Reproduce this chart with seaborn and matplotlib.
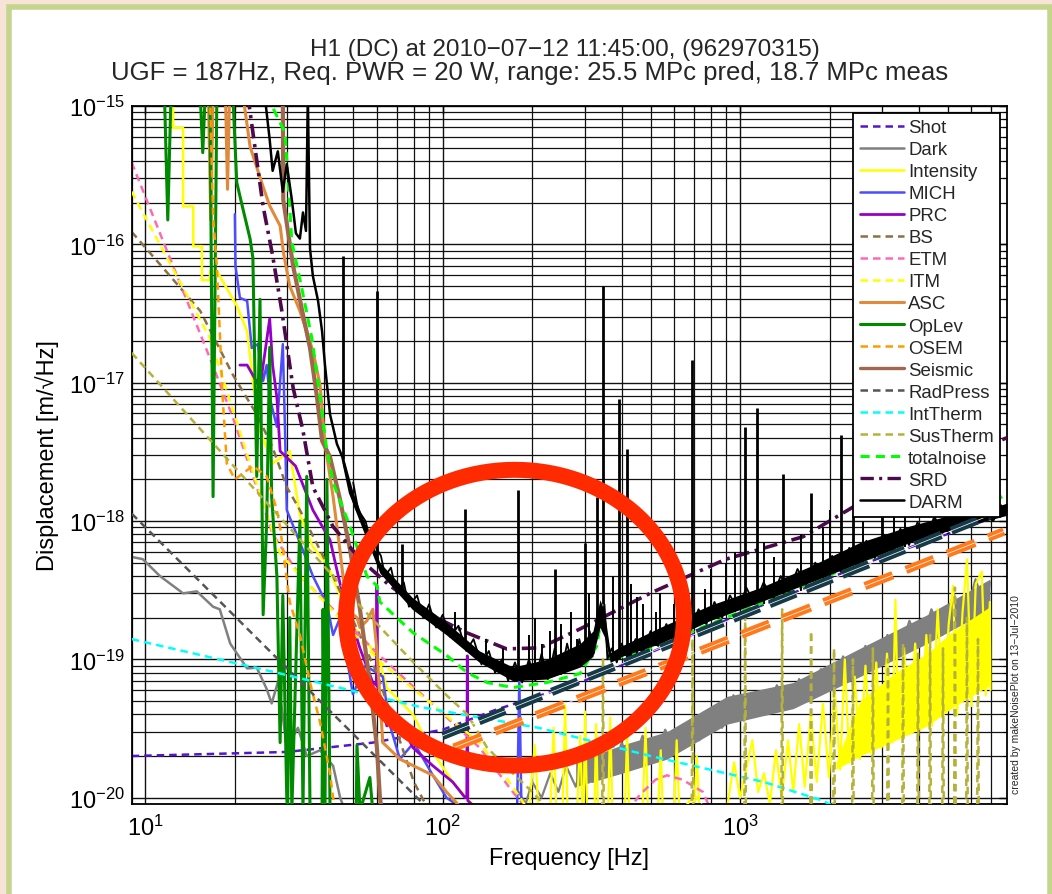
import numpy as np
import matplotlib
matplotlib.use("Agg")
import matplotlib.pyplot as plt
import seaborn as sns
from matplotlib.lines import Line2D
from matplotlib.patches import Rectangle
from matplotlib.ticker import FixedLocator, LogLocator, NullFormatter

# ---------------- data (frequency [Hz], displacement [m/rtHz]) ----------------
shot_pts = [(9.0, 2.0e-20), (29.9, 2.14e-20), (58.2, 2.5e-20), (100, 3.1e-20), (150, 4.3e-20),
            (290, 6.8e-20), (940, 2.0e-19), (2754, 5.1e-19), (7900, 1.15e-18)]

dark_lo_pts = [(9.0, 5.5e-19), (9.8, 5.3e-19), (11.2, 4.0e-19), (13.4, 3.0e-19), (14.9, 3.1e-19),
               (16.9, 2.4e-19), (17.8, 2.3e-19), (19.3, 1.3e-19), (22.0, 8.6e-20), (23.7, 8.7e-20),
               (25.6, 6.1e-20), (26.6, 4.8e-20), (28.0, 7.0e-20), (29.9, 2.3e-20), (32.6, 3.2e-20),
               (34.9, 2.0e-20), (38.7, 2.2e-20), (42.8, 1.7e-20), (45.2, 1.0e-20), (47.0, 8.0e-21)]
dark_hi_pts = [(180, 1.1e-20), (190, 9e-21), (200, 1.3e-20), (215, 1.0e-20), (230, 1.5e-20), (245, 1.1e-20),
               (260, 1.7e-20), (280, 1.2e-20), (300, 2.0e-20), (320, 1.3e-20), (345, 2.2e-20), (370, 1.5e-20),
               (400, 2.5e-20), (430, 1.6e-20), (470, 2.8e-20), (510, 1.8e-20), (560, 3.1e-20), (610, 2.1e-20),
               (670, 3.5e-20), (730, 2.6e-20), (800, 4.2e-20), (870, 3.2e-20), (950, 5.5e-20), (1030, 3.6e-20),
               (1120, 5.8e-20), (1220, 4.0e-20), (1330, 6.5e-20), (1450, 4.4e-20), (1580, 7.2e-20),
               (1720, 5.0e-20), (1870, 8.5e-20), (2040, 6.0e-20), (2220, 1.05e-19), (2420, 7.2e-20),
               (2640, 1.25e-19), (2870, 8.8e-20), (3130, 1.5e-19), (3410, 1.05e-19), (3710, 1.9e-19),
               (4040, 1.25e-19), (4400, 2.3e-19), (4790, 1.5e-19), (5220, 3.0e-19), (5680, 1.9e-19),
               (6190, 3.8e-19), (6700, 2.3e-19), (6920, 3.6e-19)]
dark_band_hz = [280, 400, 568, 904, 1508, 2529, 4254, 6920]
dark_band_low = [1.2e-20, 1.5e-20, 1.9e-20, 3.4e-20, 4.4e-20, 7.5e-20, 1.3e-19, 2.3e-19]
dark_band_high = [1.8e-20, 2.4e-20, 3.0e-20, 5.4e-20, 6.8e-20, 1.2e-19, 2.1e-19, 3.8e-19]

intensity_lo_pts = [(12.4, 1.2e-15), (12.4, 6.95e-16), (13.4, 6.95e-16), (13.4, 1.88e-16), (14.5, 1.88e-16),
                    (14.5, 9.7e-17), (15.5, 9.7e-17), (15.5, 5.5e-17), (16.5, 5.5e-17), (16.5, 6.4e-17),
                    (17.4, 6.4e-17), (20.3, 3.6e-17), (22.0, 2.35e-17), (23.0, 1.03e-17), (24.3, 4.5e-18),
                    (26.8, 2.6e-18), (30.6, 3.2e-18), (33.1, 1.1e-18), (36.6, 6.5e-19), (40.8, 4.9e-19),
                    (49.9, 1.74e-19), (56.9, 1.25e-19), (61.5, 9.5e-20), (64.9, 6.2e-20), (79.4, 4.0e-20),
                    (90.5, 2.3e-20), (108, 1.3e-20), (123, 9.5e-21), (130, 8.0e-21)]
intensity_hi_pts = [(195, 8e-21), (204, 2.4e-20), (210, 8e-21), (230, 8e-21), (236, 3.2e-20), (241, 8e-21),
                    (253, 8e-21), (258, 4.7e-20), (263, 8e-21), (283, 8e-21), (290, 2.8e-20), (295, 8e-21),
                    (298, 8e-21), (301, 4.2e-20), (306, 8e-21), (324, 8e-21), (328, 3.4e-20), (333, 8e-21),
                    (360, 8e-21), (366, 3.8e-20), (372, 8e-21), (410, 8e-21), (417, 3.0e-20), (424, 8e-21),
                    (470, 8e-21), (481, 3.2e-20), (490, 8e-21), (530, 8e-21), (541, 2.2e-20), (550, 8e-21),
                    (600, 8e-21), (612, 2.6e-20), (625, 8e-21), (700, 8e-21), (715, 2.0e-20), (730, 8e-21),
                    (900, 8e-21), (955, 1.8e-20), (1000, 1.0e-20), (1100, 2.6e-20), (1150, 1.1e-20),
                    (1204, 1.5e-20), (1260, 9e-21), (1320, 2.2e-20), (1380, 1.0e-20), (1450, 2.6e-20),
                    (1510, 1.1e-20), (1580, 3.4e-20), (1650, 1.2e-20), (1730, 4.0e-20), (1810, 1.3e-20),
                    (1900, 4.8e-20), (1990, 1.4e-20), (2080, 6.0e-20), (2170, 1.6e-20), (2250, 1.0e-19),
                    (2330, 1.8e-20), (2430, 7.5e-20), (2530, 1.9e-20), (2640, 9.0e-20), (2750, 2.1e-20),
                    (2870, 9.5e-20), (2990, 2.3e-20), (3120, 1.1e-19), (3250, 2.5e-20), (3330, 2.7e-19),
                    (3410, 2.7e-20), (3560, 1.2e-19), (3720, 2.9e-20), (3880, 1.3e-19), (4050, 3.1e-20),
                    (4230, 1.5e-19), (4420, 3.3e-20), (4620, 2.3e-19), (4820, 3.6e-20), (5030, 1.8e-19),
                    (5200, 3.4e-19), (5370, 4.0e-20), (5600, 2.2e-19), (5800, 5.3e-19), (6000, 4.6e-20),
                    (6200, 3.5e-19), (6500, 4.3e-19), (6700, 5.5e-20), (6920, 2.6e-19), (6950, 6.0e-20)]
intensity_band_hz = [2100, 2529, 3330, 4254, 5200, 6920]
intensity_band_low = [1.6e-20, 2.0e-20, 2.6e-20, 3.3e-20, 4.5e-20, 6.5e-20]
intensity_band_high = [1.8e-20, 5.0e-20, 8.0e-20, 1.1e-19, 1.6e-19, 2.4e-19]

mich_pts = [(20.0, 1.65e-16), (20.1, 7.0e-17), (20.8, 4.1e-17), (22.0, 3.9e-17), (22.8, 1.78e-17),
            (23.9, 1.9e-17), (24.9, 1.03e-17), (25.6, 1.34e-17), (26.2, 7.8e-18), (27.7, 4.8e-18),
            (29.0, 1.9e-17), (29.5, 4.5e-18), (29.9, 1.2e-18), (33.1, 7.0e-19), (36.6, 4.0e-19),
            (40.8, 2.5e-19), (42.8, 1.5e-19), (45.2, 2.0e-19), (49.9, 5.6e-20), (55.0, 9.0e-20),
            (62.9, 7.5e-20), (66.0, 3.5e-20), (71.8, 1.9e-20), (80.0, 2.5e-20), (92.7, 1.45e-20),
            (103, 1.0e-20), (115, 8.5e-21), (178, 8.5e-21), (181, 7.2e-20), (184, 8.5e-21)]

prc_pts = [(20.8, 1.34e-17), (22.0, 1.34e-17), (24.3, 9.2e-18), (26.2, 2.9e-17), (26.8, 1.34e-17),
           (27.7, 7.8e-18), (28.4, 3.2e-18), (32.0, 2.5e-18), (36.6, 1.2e-18), (41.8, 7.3e-19),
           (45.2, 3.5e-19), (52.7, 1.2e-19), (58.2, 6.8e-20), (59.8, 6.5e-20), (60.1, 3.4e-19),
           (60.5, 6.2e-20), (61.5, 5.5e-20), (64.9, 3.3e-20), (70.0, 4.0e-20), (79.4, 2.3e-20),
           (92.7, 1.7e-20), (108, 1.3e-20), (119, 1.0e-20), (120.5, 1.0e-20), (121, 1.06e-19),
           (121.5, 9.5e-21), (133, 8.0e-21)]

bs_pts = [(9.0, 1.23e-16), (11.8, 6.3e-17), (15.3, 3.3e-17), (19.7, 1.14e-17), (23.7, 5.9e-18),
          (26.8, 3.4e-18), (29.9, 1.76e-18), (33.1, 1.2e-18), (42.8, 4.0e-19), (60.0, 8.0e-20),
          (80.0, 1.3e-20), (90.0, 8.0e-21)]

etm_pts = [(9.0, 3.9e-16), (16.5, 1.5e-17), (19.7, 5.6e-18), (26.8, 8.1e-19), (29.0, 6.2e-19),
           (33.1, 4.0e-19), (61.5, 1.06e-19), (133, 2.3e-20), (172, 1.1e-20), (195, 8.0e-21),
           (420, 8.0e-21), (460, 1.05e-20), (520, 1.35e-20), (568, 1.45e-20), (640, 1.35e-20),
           (750, 1.1e-20), (800, 8.0e-21)]

itm_pts = [(9.0, 2.4e-16), (16.5, 2.1e-17), (22.5, 2.6e-18), (28.4, 5.8e-19), (61.5, 9.6e-20),
           (133, 2.5e-20), (172, 1.2e-20), (195, 8.0e-21), (640, 8.0e-21), (700, 1.05e-20),
           (770, 8.0e-21)]

asc_pts = [(16.3, 1.2e-15), (16.6, 1.5e-16), (16.9, 1.2e-15), (18.6, 1.2e-15), (18.9, 2.5e-16),
           (19.2, 1.2e-15), (21.3, 1.2e-15), (22.5, 5.1e-16), (24.9, 2.6e-16), (26.2, 1.9e-16),
           (28.4, 1.36e-16), (29.2, 8.5e-17), (30.6, 5.0e-17), (33.1, 3.3e-17), (36.6, 1.7e-17),
           (38.7, 9.6e-18), (40.2, 3.6e-18), (42.8, 1.5e-18), (45.2, 6.0e-19), (47.6, 2.3e-19),
           (51.5, 2.0e-19), (52.7, 1.7e-19), (55.6, 1.9e-19), (58.2, 2.3e-19), (60.0, 1.2e-19),
           (62.9, 2.5e-20), (71.8, 1.9e-20), (92.7, 1.45e-20), (103, 1.1e-20), (115, 8.5e-21)]

oplev_pts = [(11.6, 1.2e-15), (11.9, 1.5e-16), (12.2, 1.2e-15), (15.3, 1.2e-15), (15.6, 4.6e-16),
             (15.9, 1.2e-15), (16.5, 1.2e-15), (16.9, 1.5e-18), (17.4, 1.2e-15), (19.7, 1.2e-15),
             (20.3, 2.8e-16), (21.3, 1.8e-16), (22.5, 1.1e-16), (23.0, 8.0e-17), (23.7, 2.1e-18),
             (24.3, 4.0e-17), (24.9, 2.1e-19), (25.6, 1.0e-18), (26.2, 1.8e-17), (26.6, 1.5e-18),
             (27.7, 4.0e-19), (28.4, 2.5e-20), (29.0, 2.9e-19), (29.9, 1.0e-20), (30.1, 8e-21),
             (30.6, 2.0e-19), (31.1, 8e-21), (33.1, 1.0e-18), (33.9, 8e-21), (34.9, 2.1e-18),
             (35.8, 8e-21), (39.3, 8e-21), (39.6, 2.3e-19), (40.2, 8e-21), (40.8, 2.0e-18),
             (41.8, 8e-21), (51.2, 8e-21), (51.5, 2.4e-20), (52.7, 8e-21), (56.9, 1.4e-20), (58.2, 8e-21)]

osem_pts = [(16.5, 1.2e-15), (16.9, 1.6e-16), (17.4, 7.0e-17), (17.8, 2.35e-17), (18.2, 7.8e-18),
            (18.8, 2.6e-18), (20.0, 2.0e-18), (23.0, 2.5e-18), (25.6, 2.1e-18), (27.7, 1.2e-18),
            (28.4, 9.0e-19), (30.6, 2.6e-19), (33.1, 1.5e-19), (35.8, 6.8e-20), (38.7, 3.5e-20),
            (41.8, 1.5e-20), (42.8, 1.0e-20), (43.6, 8e-21)]

seismic_pts = [(29.0, 1.2e-15), (29.1, 2.1e-16), (31.4, 7.0e-17), (33.9, 3.1e-17), (35.8, 1.78e-17),
               (37.8, 7.8e-18), (39.3, 3.8e-18), (41.8, 2.9e-18), (45.2, 1.42e-18), (48.8, 6.2e-19),
               (52.7, 2.3e-19), (56.9, 6.8e-20), (60.1, 2.3e-20), (61.5, 1.0e-20), (62.5, 8e-21)]

radpress_pts = [(9.0, 1.13e-18), (88, 8.6e-21)]

inttherm_pts = [(9.0, 1.4e-19), (28.4, 7.9e-20), (85, 4.5e-20), (210, 3.2e-20), (500, 2.0e-20),
                (1200, 1.3e-20), (1900, 9.5e-21), (2100, 8.5e-21)]

sustherm_base_pts = [(9.0, 1.64e-17), (21.3, 2.1e-18), (54.0, 2.3e-19), (79.4, 9.6e-20), (103, 5.5e-20),
                     (121, 4.0e-20), (141, 2.3e-20), (172, 1.5e-20), (200, 1.1e-20), (230, 8.0e-21)]
sustherm_violin_hz = [346, 692, 1040, 1385, 1733, 2070, 2396, 2797, 3144, 3532, 3966, 4355, 4813,
                      5279, 5794, 6310]
sustherm_violin_peak = [1.0e-19, 1.4e-19, 2.3e-19, 2.3e-19, 1.6e-19, 1.2e-19, 1.0e-19, 1.2e-19,
                        1.0e-19, 1.3e-19, 1.1e-19, 1.5e-19, 1.2e-19, 3.3e-19, 2.0e-19, 1.4e-19]
sustherm_floor = 8.0e-21

total_pts = [(25.6, 1.2e-15), (29.5, 6.4e-16), (31.1, 1.04e-16), (33.6, 4.8e-17), (36.3, 2.1e-17),
             (38.7, 7.8e-18), (40.5, 3.6e-18), (42.8, 1.9e-18), (48.8, 9.1e-19), (55.6, 4.0e-19),
             (60.1, 3.4e-19), (61.5, 2.6e-19), (79.4, 1.56e-19), (103, 1.07e-19), (121, 8.0e-20),
             (141, 6.8e-20), (172, 6.25e-20), (224, 6.8e-20), (290, 7.9e-20), (330, 1.25e-19),
             (346, 2.4e-19), (363, 9.8e-20), (498, 1.2e-19), (1081, 2.35e-19), (3451, 6.6e-19),
             (6067, 1.2e-18), (7900, 1.55e-18)]

srd_pts = [(22.1, 1.2e-15), (24.9, 1.88e-16), (26.8, 8.3e-17), (28.8, 3.27e-17), (31.4, 9.2e-18),
           (33.9, 4.5e-18), (36.6, 1.76e-18), (42.8, 9.1e-19), (52.7, 5.3e-19), (66.5, 3.4e-19),
           (92.7, 2.06e-19), (121, 1.55e-19), (164, 1.19e-19), (212, 1.21e-19), (290, 1.66e-19),
           (498, 3.0e-19), (897, 5.3e-19), (1629, 7.7e-19), (2396, 1.26e-18), (4000, 2.2e-18),
           (7900, 4.0e-18)]

# DARM: low-frequency wall, broadband noise floor (band + ragged trace), and narrow lines
darm_lo_pts = [(25.2, 1.2e-15), (26.2, 5.7e-16), (26.8, 3.4e-16), (27.9, 4.7e-16), (29.0, 2.4e-16),
               (29.9, 3.8e-16), (31.1, 2.1e-16), (32.1, 1.2e-16), (33.1, 1.1e-16), (33.9, 1.7e-16),
               (34.7, 1.25e-16), (35.2, 1.2e-15), (35.8, 9.3e-17), (36.6, 5.9e-17), (38.1, 3.9e-17),
               (39.3, 2.35e-17), (40.2, 1.34e-17), (41.8, 5.9e-18), (44.1, 3.6e-18), (46.0, 2.9e-18),
               (48.8, 1.6e-18), (51.5, 1.2e-18)]
darm_band_hz = [46, 50, 61.5, 79, 103, 133, 172, 224, 290, 320, 338, 350, 366, 400, 538, 790, 1170,
                1720, 2530, 3720, 5480, 6920, 7900]
darm_band_low = [2.6e-18, 1.3e-18, 4.2e-19, 2.3e-19, 1.5e-19, 9.5e-20, 7.0e-20, 7.2e-20, 8.8e-20,
                 1.05e-19, 1.7e-19, 1.45e-19, 9.5e-20, 1.05e-19, 1.3e-19, 1.9e-19, 2.6e-19, 3.6e-19,
                 5.0e-19, 7.0e-19, 9.0e-19, 1.02e-18, 1.1e-18]
darm_band_high = [3.1e-18, 1.6e-18, 5.0e-19, 2.8e-19, 1.85e-19, 1.15e-19, 8.8e-20, 1.0e-19, 1.3e-19,
                  1.6e-19, 2.7e-19, 2.2e-19, 1.12e-19, 1.25e-19, 1.7e-19, 2.45e-19, 3.3e-19, 4.7e-19,
                  7.0e-19, 9.2e-19, 1.15e-18, 1.22e-18, 1.35e-18]
darm_noise_pts = [(50, 1.9e-18), (52, 1.2e-18), (55, 1.0e-18), (57, 7.5e-19), (62, 5.6e-19), (64, 4.0e-19),
                  (67, 4.6e-19), (70, 3.0e-19), (74, 3.6e-19), (77, 2.4e-19), (82, 2.9e-19), (86, 2.0e-19),
                  (90, 2.5e-19), (95, 1.7e-19), (100, 2.1e-19), (106, 1.45e-19), (113, 1.75e-19),
                  (120, 1.15e-19), (127, 1.4e-19), (135, 9.2e-20), (143, 1.15e-19), (150, 8.0e-20),
                  (158, 1.0e-19), (166, 7.0e-20), (175, 9.5e-20), (185, 6.8e-20), (195, 1.0e-19),
                  (205, 7.0e-20), (215, 1.1e-19), (226, 7.2e-20), (238, 1.2e-19), (250, 7.8e-20),
                  (262, 1.3e-19), (275, 8.5e-20), (288, 1.4e-19), (300, 9.5e-20), (312, 1.6e-19),
                  (322, 1.1e-19), (332, 2.3e-19), (340, 1.8e-19), (350, 2.5e-19), (358, 1.0e-19),
                  (370, 1.2e-19), (385, 9.5e-20), (400, 1.3e-19), (420, 1.0e-19), (445, 1.4e-19),
                  (470, 1.1e-19), (500, 1.6e-19), (530, 1.25e-19), (565, 1.8e-19), (600, 1.4e-19),
                  (640, 2.0e-19), (680, 1.6e-19), (725, 2.3e-19), (770, 1.8e-19), (820, 2.6e-19),
                  (870, 2.0e-19), (925, 2.9e-19), (985, 2.3e-19), (1050, 3.3e-19), (1120, 2.5e-19),
                  (1200, 3.6e-19), (1280, 2.8e-19), (1370, 4.0e-19), (1460, 3.1e-19), (1560, 4.5e-19),
                  (1670, 3.5e-19), (1790, 5.0e-19), (1910, 3.9e-19), (2040, 5.6e-19), (2180, 4.3e-19),
                  (2330, 6.4e-19), (2490, 4.8e-19), (2660, 7.2e-19), (2840, 5.4e-19), (3030, 8.0e-19),
                  (3240, 6.0e-19), (3460, 8.8e-19), (3700, 6.7e-19), (3950, 9.8e-19), (4220, 7.4e-19),
                  (4500, 1.08e-18), (4800, 8.2e-19), (5130, 1.15e-18), (5480, 8.8e-19), (5850, 1.2e-18),
                  (6250, 9.5e-19), (6670, 1.25e-18), (7100, 1.0e-18), (7550, 1.3e-18), (7900, 1.1e-18)]
darm_line_hz = [46.2, 60.1, 72.9, 119, 179, 239, 301, 330, 346, 392, 417, 689, 1040, 1141, 1396, 1733,
                2187, 2396, 3000]
darm_line_peak = [8.3e-17, 4.6e-17, 6.8e-19, 1.22e-18, 1.67e-18, 4.5e-19, 6.9e-19, 1.5e-18, 5.0e-17,
                  7.6e-18, 3.3e-18, 1.45e-17, 4.8e-18, 6.6e-18, 2.2e-18, 1.6e-18, 4.2e-18, 1.1e-18, 1.3e-18]
darm_line_foot = [2.8e-18, 5.0e-19, 2.9e-19, 1.3e-19, 8.0e-20, 9.0e-20, 1.1e-19, 1.5e-19, 2.5e-19,
                  1.0e-19, 1.05e-19, 1.9e-19, 2.8e-19, 3.0e-19, 3.5e-19, 4.0e-19, 5.0e-19, 5.5e-19, 6.5e-19]
darm_minor_hz = [110, 140, 160, 195, 204, 215, 230, 250, 270, 282, 310, 375, 430, 450, 470, 520, 540,
                 600, 640, 760, 800, 900, 960, 1200, 1300, 1600, 1900, 2000, 2600, 3300, 3600, 4500,
                 5000, 6000]
darm_minor_peak = [2.2e-19, 1.4e-19, 1.2e-19, 1.5e-19, 2.0e-19, 1.3e-19, 1.6e-19, 1.8e-19, 2.2e-19,
                   1.4e-19, 3.0e-19, 4.0e-19, 3.5e-19, 2.8e-19, 2.5e-19, 2.2e-19, 3.0e-19, 2.5e-19,
                   2.8e-19, 3.2e-19, 4.5e-19, 5.0e-19, 6.0e-19, 7.0e-19, 5.5e-19, 8.0e-19, 9.0e-19,
                   1.2e-18, 1.0e-18, 1.5e-18, 1.3e-18, 1.4e-18, 1.6e-18, 1.8e-18]
darm_minor_foot = [1.5e-19, 1.1e-19, 9.0e-20, 8.0e-20, 8.0e-20, 8.0e-20, 8.5e-20, 9.0e-20, 9.5e-20,
                   1.0e-19, 1.2e-19, 1.0e-19, 1.05e-19, 1.1e-19, 1.15e-19, 1.25e-19, 1.3e-19, 1.4e-19,
                   1.5e-19, 1.8e-19, 1.9e-19, 2.1e-19, 2.2e-19, 2.5e-19, 2.6e-19, 3.1e-19, 3.5e-19,
                   3.6e-19, 4.7e-19, 6.0e-19, 6.5e-19, 7.5e-19, 8.0e-19, 9.0e-19]

annot_teal_pts = [(100, 2.8e-20), (6920, 1.1e-18)]
annot_orange_pts = [(109, 2.3e-20), (7710, 8.4e-19)]
circle_center = (175.0, 2.0e-19)      # Hz, m/rtHz
circle_half_span_decades = (0.568, 1.069)

legend_labels = ["Shot", "Dark", "Intensity", "MICH", "PRC", "BS", "ETM", "ITM", "ASC", "OpLev",
                 "OSEM", "Seismic", "RadPress", "IntTherm", "SusTherm", "totalnoise", "SRD", "DARM"]

title_line1 = "H1 (DC) at 2010\u221207\u221212 11:45:00, (962970315)"
title_line2 = "UGF = 187Hz, Req. PWR = 20 W, range: 25.5 MPc pred, 18.7 MPc meas"

x_major_ticks = [10, 100, 1000]
y_major_ticks = [1e-20, 1e-19, 1e-18, 1e-17, 1e-16, 1e-15]

# ---------------- style ----------------
sns.set_theme(style="white")
plt.rcParams['font.family'] = ['Liberation Sans', 'DejaVu Sans']
plt.rcParams['mathtext.fontset'] = 'custom'
plt.rcParams['mathtext.rm'] = 'Liberation Sans'
plt.rcParams['mathtext.it'] = 'Liberation Sans:italic'
plt.rcParams['mathtext.bf'] = 'Liberation Sans:bold'
plt.rcParams['axes.unicode_minus'] = True

DASH = (0, (3.0, 2.0))
DASHDOT = (0, (4.0, 1.6, 0.9, 1.6))

styles = {
    "Shot": ("#5416c8", 1.8, DASH),
    "Dark": ("#808080", 1.8, '-'),
    "Intensity": ("#ffff00", 1.8, '-'),
    "MICH": ("#4d4dff", 1.8, '-'),
    "PRC": ("#9400c8", 2.0, '-'),
    "BS": ("#8b7045", 1.8, DASH),
    "ETM": ("#ff69b4", 1.8, DASH),
    "ITM": ("#ffff00", 1.8, DASH),
    "ASC": ("#e08a3c", 2.2, '-'),
    "OpLev": ("#008a00", 2.2, '-'),
    "OSEM": ("#ff9a00", 1.8, DASH),
    "Seismic": ("#a0674b", 3.0, '-'),
    "RadPress": ("#555555", 1.8, DASH),
    "IntTherm": ("#00ffff", 1.8, DASH),
    "SusTherm": ("#b5b23c", 1.8, DASH),
    "totalnoise": ("#00ff00", 2.2, DASH),
    "SRD": ("#4c0a4c", 2.6, DASHDOT),
    "DARM": ("#000000", 1.8, '-'),
}

W, H = 1052, 895
fig = plt.figure(figsize=(W / 100, H / 100), dpi=100)
fig.patch.set_facecolor('#f8e4d6')
fig.add_artist(Rectangle((9.5 / W, -0.05), 1040 / W, (H - 8.0) / H + 0.05, transform=fig.transFigure,
                         facecolor='white', edgecolor='#c4d58e', linewidth=4.0, zorder=-5))

ax = fig.add_axes([131.7 / W, 90 / H, (1007 - 131.7) / W, (805 - 107) / H])
ax.set_facecolor('white')
ax.set_xscale('log')
ax.set_yscale('log')


def draw(pts, name, z=2, lw=None):
    color, lw0, ls = styles[name]
    hz = [p[0] for p in pts]
    asd = [p[1] for p in pts]
    sns.lineplot(x=hz, y=asd, ax=ax, color=color, linewidth=lw if lw else lw0, linestyle=ls,
                 estimator=None, sort=False, legend=False, zorder=z)


draw(shot_pts, "Shot", 2)
ax.fill_between(dark_band_hz, dark_band_low, dark_band_high, color=styles["Dark"][0], lw=0, zorder=2)
draw(dark_lo_pts, "Dark", 2)
draw(dark_hi_pts, "Dark", 2, lw=1.6)
ax.fill_between(intensity_band_hz, intensity_band_low, intensity_band_high, color=styles["Intensity"][0],
                lw=0, zorder=2.1)
draw(intensity_lo_pts, "Intensity", 2.1)
draw(intensity_hi_pts, "Intensity", 2.1, lw=1.6)
draw(mich_pts, "MICH", 2.2)
draw(prc_pts, "PRC", 2.3)
draw(bs_pts, "BS", 2.4)
draw(etm_pts, "ETM", 2.5)
draw(itm_pts, "ITM", 2.6)
draw(asc_pts, "ASC", 2.7)
draw(oplev_pts, "OpLev", 2.8)
draw(osem_pts, "OSEM", 2.9)
draw(seismic_pts, "Seismic", 3.0)
draw(radpress_pts, "RadPress", 3.1)
draw(inttherm_pts, "IntTherm", 3.2)
sus_pts = list(sustherm_base_pts)
for f, p in zip(sustherm_violin_hz, sustherm_violin_peak):
    sus_pts += [(f * 0.994, sustherm_floor), (f, p), (f * 1.006, sustherm_floor)]
draw(sus_pts, "SusTherm", 3.3)
draw(total_pts, "totalnoise", 3.4)
draw(srd_pts, "SRD", 3.5)

# DARM
draw(darm_lo_pts, "DARM", 3.6)
ax.fill_between(darm_band_hz, darm_band_low, darm_band_high, color='black', lw=0, zorder=3.6)
draw(darm_noise_pts, "DARM", 3.65, lw=1.3)
ax.vlines(darm_line_hz, darm_line_foot, darm_line_peak, color='black', lw=2.0, zorder=3.7)
ax.vlines(darm_minor_hz, darm_minor_foot, darm_minor_peak, color='black', lw=1.4, zorder=3.7)

# annotations (thick dashed guide lines and red circle)
th, ta = zip(*annot_teal_pts)
sns.lineplot(x=list(th), y=list(ta), ax=ax, color='#163a48', linewidth=6.0, linestyle=(0, (3.4, 1.3)),
             estimator=None, sort=False, legend=False, zorder=6)
oh, oa = zip(*annot_orange_pts)
sns.lineplot(x=list(oh), y=list(oa), ax=ax, color='#ff7a1c', linewidth=6.0, linestyle=(0, (3.6, 1.7)),
             estimator=None, sort=False, legend=False, zorder=6)
for hh, aa in ((th, ta), (oh, oa)):
    ax.plot(hh, aa, color='white', lw=0.5, zorder=6.5)

t = np.linspace(0, 2 * np.pi, 400)
cx = circle_center[0] * 10 ** (circle_half_span_decades[0] * np.cos(t))
cy = circle_center[1] * 10 ** (circle_half_span_decades[1] * np.sin(t))
ax.plot(cx, cy, color='#ff2a00', lw=11.5, zorder=8, solid_joinstyle='round')

# axes
ax.set_xlim(9.0, 7900)
ax.set_ylim(9e-21, 1e-15)
ax.xaxis.set_major_locator(FixedLocator(x_major_ticks))
ax.yaxis.set_major_locator(FixedLocator(y_major_ticks))
ax.xaxis.set_minor_locator(LogLocator(base=10, subs=np.arange(2, 10), numticks=100))
ax.yaxis.set_minor_locator(LogLocator(base=10, subs=np.arange(2, 10), numticks=100))
ax.xaxis.set_minor_formatter(NullFormatter())
ax.yaxis.set_minor_formatter(NullFormatter())
ax.grid(True, which='major', color='#111111', lw=1.0)
ax.grid(True, which='minor', color='#111111', lw=0.9)
ax.set_axisbelow(True)
ax.tick_params(which='both', direction='in', top=True, right=True, labelsize=17, colors='black')
ax.tick_params(which='major', length=6, width=1.0)
ax.tick_params(which='minor', length=3, width=0.8)
ax.tick_params(axis='x', pad=8)
ax.tick_params(axis='y', pad=5)
for s in ax.spines.values():
    s.set_color('black')
    s.set_linewidth(1.3)

ax.set_xlabel("Frequency [Hz]", fontsize=17, labelpad=5, color='black')
ax.set_ylabel("Displacement [m/\u221aHz]", fontsize=17, labelpad=7, color='black')

fig.text(565 / W, 1 - 50 / H, title_line1, ha='center', va='center', fontsize=17.5)
fig.text(530 / W, 1 - 73 / H, title_line2, ha='center', va='center', fontsize=18.5)
fig.text(1016 / W, 1 - 695 / H, "created by makeNoisePlot on 13\u2212Jul\u22122010", rotation=90,
         ha='center', va='center', fontsize=7.5)

handles = []
for name in legend_labels:
    color, lw0, ls = styles[name]
    handles.append(Line2D([], [], color=color, linewidth=min(lw0, 2.4), linestyle=ls))
leg = ax.legend(handles, legend_labels, loc='upper right', fontsize=13.4, labelspacing=0.27,
                handlelength=2.4, handletextpad=0.2, borderpad=0.35, borderaxespad=0.35,
                frameon=True, fancybox=False, framealpha=1, edgecolor='black')
leg.get_frame().set_linewidth(1.3)
leg.set_zorder(20)

fig.savefig("out.png", dpi=100, facecolor=fig.get_facecolor())
